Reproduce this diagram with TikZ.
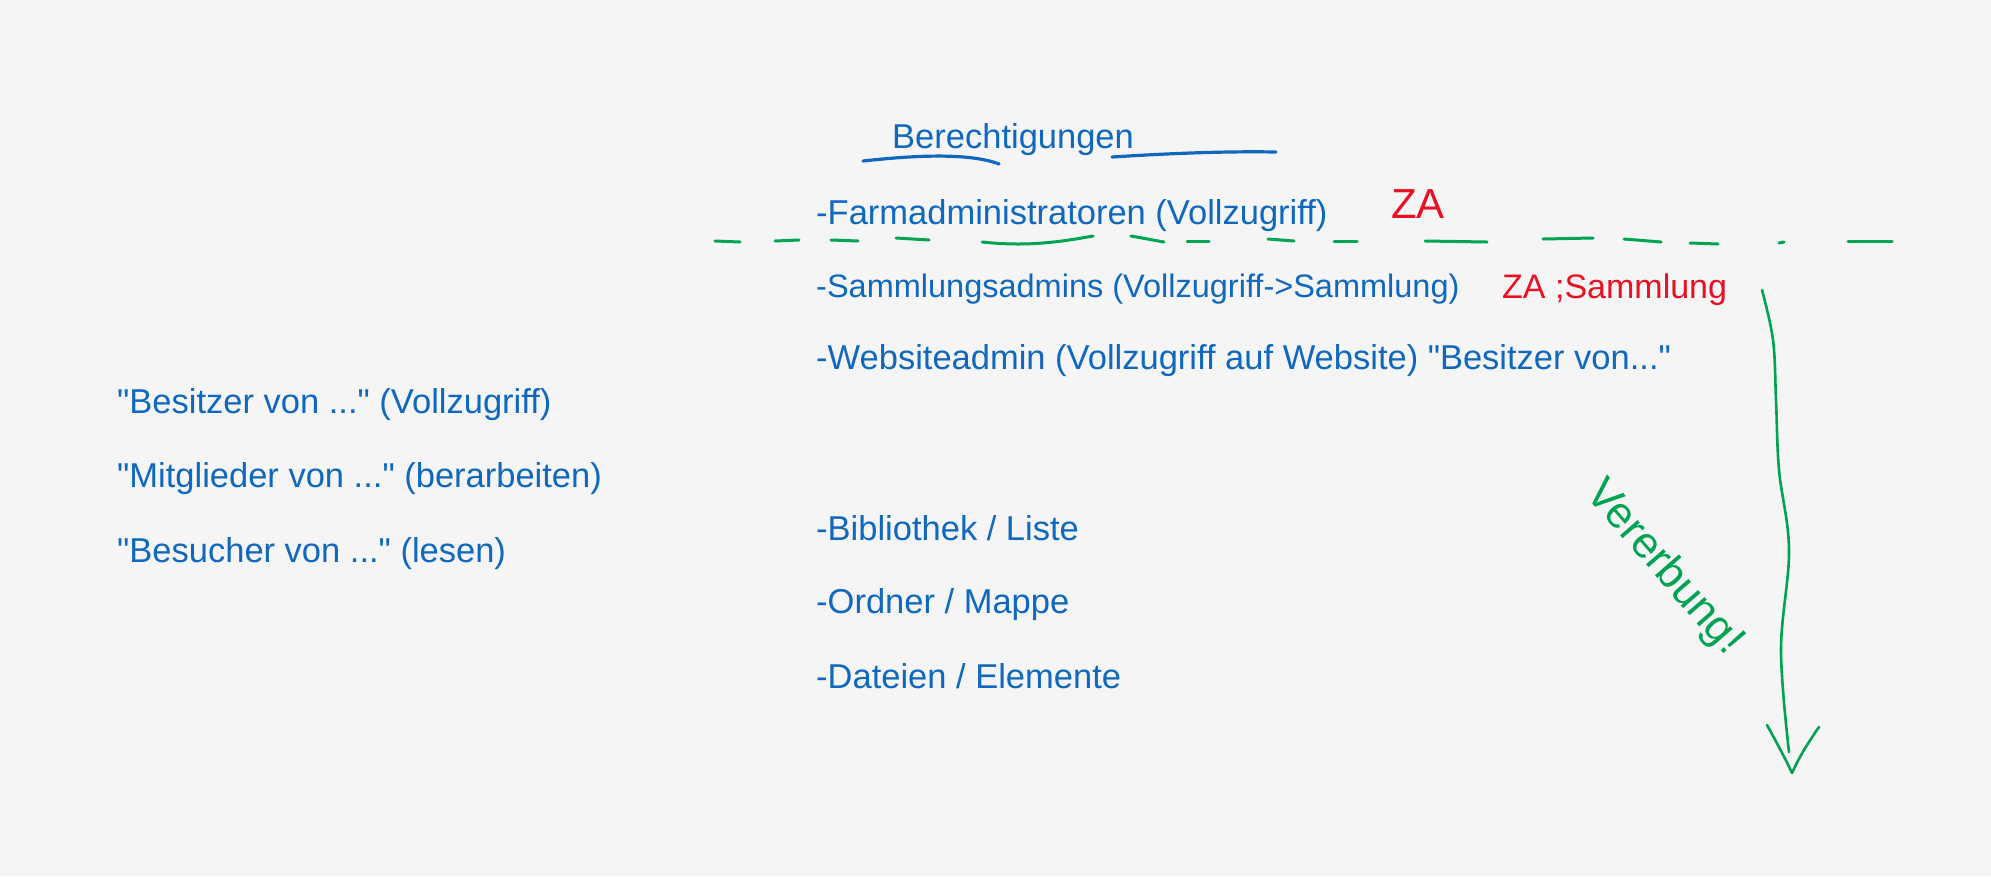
\documentclass[tikz,border=0pt]{standalone}
\usepackage{fontspec}
\setmainfont{Liberation Sans}[Ligatures=TeXOff]
\definecolor{bgc}{RGB}{245,245,245}
\definecolor{bluec}{RGB}{16,104,190}
\definecolor{greenc}{RGB}{0,163,82}
\definecolor{redc}{RGB}{232,17,35}
\tikzset{
  bt/.style={text=bluec, font=\fontsize{34.5}{40}\selectfont, anchor=base west, inner sep=0pt},
  rt/.style={text=redc, font=\fontsize{#1}{#1}\selectfont, anchor=base west, inner sep=0pt},
  gline/.style={draw=greenc, line width=3pt, line cap=round, line join=round},
  bline/.style={draw=bluec, line width=3.2pt, line cap=round},
}
\begin{document}
\begin{tikzpicture}[x=1pt,y=-1pt]
\fill[bgc] (0,0) rectangle (1991,876);
\useasboundingbox (0,0) rectangle (1991,876);

% title
\node[bt] (title) at (892,148) {Berechtigungen};
\draw[bline] (863,161) .. controls (900,157) and (965,151) .. (999,164);
\draw[bline] (1112,157) .. controls (1160,154) and (1220,151) .. (1276,152);

% right column
\node[bt] (farm) at (816,224) {-Farmadministratoren (Vollzugriff)};
\node[rt=42] (za1) at (1391,218) {ZA};
\node[bt, font=\fontsize{32.5}{40}\selectfont] (samm) at (816,297) {-Sammlungsadmins (Vollzugriff->Sammlung)};
\node[rt=34] (za2) at (1502,298) {ZA ;Sammlung};
\node[bt] (web) at (816,369) {-Websiteadmin (Vollzugriff auf Website) "Besitzer von..."};
\node[bt] (bib) at (816,540) {-Bibliothek / Liste};
\node[bt] (ord) at (816,613) {-Ordner / Mappe};
\node[bt] (dat) at (816,688) {-Dateien / Elemente};

% left column
\node[bt] (bes) at (117,413) {"Besitzer von ..." (Vollzugriff)};
\node[bt] (mit) at (117,487) {"Mitglieder von ..." (berarbeiten)};
\node[bt] (besu) at (117,562) {"Besucher von ..." (lesen)};

% green dashed separator
\draw[gline] (715,241) -- (740,242);
\draw[gline] (775,241) -- (799,240);
\draw[gline] (831,240) -- (858,241);
\draw[gline] (896,238) -- (929,240);
\draw[gline] (982,242) .. controls (1020,246) and (1050,244) .. (1093,236);
\draw[gline] (1131,236) -- (1164,242);
\draw[gline] (1187,241) -- (1209,241);
\draw[gline] (1268,239) -- (1294,241);
\draw[gline] (1334,241) -- (1357,241);
\draw[gline] (1425,241) -- (1487,242);
\draw[gline] (1543,239) -- (1593,238);
\draw[gline] (1624,239) -- (1661,242);
\draw[gline] (1690,243) -- (1718,244);
\draw[gline] (1779,243) -- (1784,242);
\draw[gline] (1848,241) -- (1892,241);

% inheritance arrow
\coordinate (arrS) at (1762,290);
\coordinate (arrE) at (1789,752);
\coordinate (arrT) at (1792,773);
\draw[gline, line width=2.6pt] plot[smooth, tension=0.6] coordinates {(arrS) (1773,340) (1776,400) (1779,470) (1789,550) (1781,650) (arrE)};
\draw[gline, line width=2.6pt] (1767,725) .. controls (1778,745) and (1786,760) .. (arrT) .. controls (1800,755) and (1810,740) .. (1819,727);

\node[text=greenc, font=\fontsize{44}{44}\selectfont, rotate=-49, inner sep=0pt] (vererb) at (1664,568) {Vererbung!};
\end{tikzpicture}
\end{document}
